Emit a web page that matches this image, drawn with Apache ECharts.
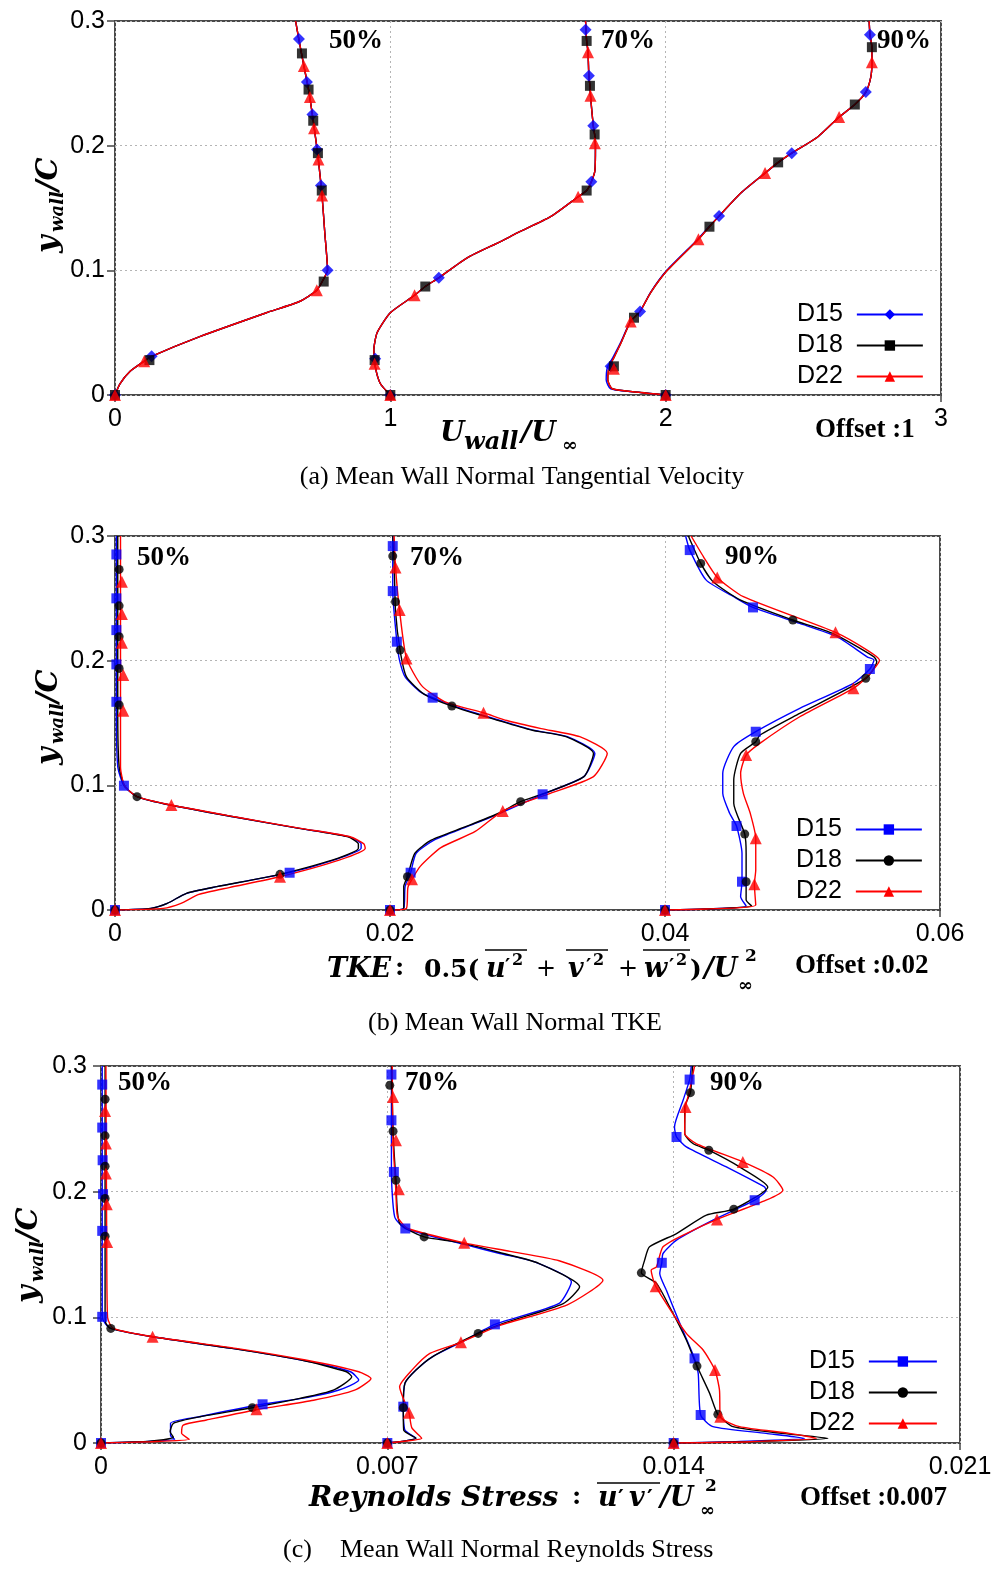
<!DOCTYPE html>
<html>
<head>
<meta charset="utf-8">
<title>Mean wall-normal profiles</title>
<script src="https://cdn.jsdelivr.net/npm/echarts@6/dist/echarts.min.js"></script>
<style>
  html, body { margin: 0; padding: 0; background: #fff; }
  #chart { width: 1001px; height: 1580px; }
</style>
</head>
<body>
<div id="chart"></div>
<script>
// ---------------------------------------------------------------
// Data: [value, y_wall/C] pairs, values before the station offset.
// Stations 50%, 70%, 90% are shifted right by 0, 1, 2 offsets.
// ---------------------------------------------------------------
const NAMES = ['D15', 'D18', 'D22'];
const STATIONS = ['50%', '70%', '90%'];
const Y_TICKS = ['0', '0.1', '0.2', '0.3'];
const VEL_X_TICKS = ['0', '1', '2', '3'];
const TKE_X_TICKS = ['0', '0.02', '0.04', '0.06'];
const RS_X_TICKS = ['0', '0.007', '0.014', '0.021'];
const VEL_OFFSET = 1;
const TKE_OFFSET = 0.02;
const RS_OFFSET = 0.007;

// (a) mean wall-normal tangential velocity U_wall/U_inf
const VEL_50_D15 = [[0,0],[0.018,0.009],[0.055,0.019],[0.105,0.027],[0.133,0.031],[0.31,0.047],[0.55,0.066],[0.67,0.075],[0.733,0.084],[0.76,0.094],[0.772,0.1],[0.762,0.13],[0.752,0.16],[0.738,0.19],[0.72,0.22],[0.703,0.245],[0.686,0.264],[0.668,0.285],[0.656,0.3]];
const VEL_50_D18 = [[0,0],[0.018,0.009],[0.055,0.019],[0.105,0.027],[0.133,0.031],[0.31,0.047],[0.55,0.066],[0.67,0.075],[0.733,0.084],[0.76,0.094],[0.772,0.1],[0.762,0.13],[0.752,0.16],[0.738,0.19],[0.72,0.22],[0.703,0.245],[0.686,0.264],[0.668,0.285],[0.656,0.3]];
const VEL_50_D22 = [[0,0],[0.018,0.009],[0.055,0.019],[0.105,0.027],[0.133,0.031],[0.31,0.047],[0.55,0.066],[0.67,0.075],[0.733,0.084],[0.76,0.094],[0.772,0.1],[0.762,0.13],[0.752,0.16],[0.738,0.19],[0.72,0.22],[0.703,0.245],[0.686,0.264],[0.668,0.285],[0.656,0.3]];
const VEL_50_D15_MK = [[0,0],[0.133,0.031],[0.772,0.1],[0.748,0.168],[0.734,0.197],[0.717,0.225],[0.697,0.251],[0.668,0.2855]];
const VEL_50_D18_MK = [[0,0],[0.125,0.028],[0.758,0.091],[0.751,0.164],[0.737,0.194],[0.72,0.22],[0.703,0.245],[0.679,0.274]];
const VEL_50_D22_MK = [[0,0],[0.106,0.027],[0.733,0.084],[0.752,0.16],[0.739,0.189],[0.723,0.214],[0.708,0.239],[0.686,0.264]];

const VEL_70_D15 = [[0,0],[-0.036,0.009],[-0.054,0.022],[-0.06,0.036],[-0.048,0.05],[0,0.066],[0.088,0.08],[0.127,0.087],[0.176,0.094],[0.279,0.11],[0.4,0.123],[0.461,0.13],[0.582,0.143],[0.682,0.159],[0.713,0.164],[0.73,0.171],[0.743,0.18],[0.745,0.199],[0.742,0.209],[0.737,0.216],[0.727,0.24],[0.725,0.248],[0.721,0.256],[0.718,0.275],[0.713,0.284],[0.709,0.3]];
const VEL_70_D18 = [[0,0],[-0.036,0.009],[-0.054,0.022],[-0.06,0.036],[-0.048,0.05],[0,0.066],[0.088,0.08],[0.127,0.087],[0.176,0.094],[0.279,0.11],[0.4,0.123],[0.461,0.13],[0.582,0.143],[0.682,0.159],[0.713,0.164],[0.73,0.171],[0.743,0.18],[0.745,0.199],[0.742,0.209],[0.737,0.216],[0.727,0.24],[0.725,0.248],[0.721,0.256],[0.718,0.275],[0.713,0.284],[0.709,0.3]];
const VEL_70_D22 = [[0,0],[-0.036,0.009],[-0.054,0.022],[-0.06,0.036],[-0.048,0.05],[0,0.066],[0.088,0.08],[0.127,0.087],[0.176,0.094],[0.279,0.11],[0.4,0.123],[0.461,0.13],[0.582,0.143],[0.682,0.159],[0.713,0.164],[0.73,0.171],[0.743,0.18],[0.745,0.199],[0.742,0.209],[0.737,0.216],[0.727,0.24],[0.725,0.248],[0.721,0.256],[0.718,0.275],[0.713,0.284],[0.709,0.3]];
const VEL_70_D15_MK = [[0,0],[-0.055,0.029],[0.176,0.094],[0.73,0.171],[0.737,0.216],[0.721,0.256],[0.709,0.293]];
const VEL_70_D18_MK = [[0,0],[-0.057,0.028],[0.127,0.087],[0.713,0.164],[0.742,0.209],[0.725,0.248],[0.713,0.284]];
const VEL_70_D22_MK = [[0,0],[-0.057,0.025],[0.088,0.08],[0.682,0.159],[0.743,0.202],[0.727,0.24],[0.718,0.275]];

const VEL_90_D15 = [[0,0],[-0.091,0.002],[-0.2,0.005],[-0.216,0.012],[-0.212,0.022],[-0.192,0.03],[-0.166,0.041],[-0.128,0.059],[-0.093,0.067],[-0.056,0.082],[0.004,0.1],[0.117,0.125],[0.157,0.135],[0.194,0.1435],[0.273,0.162],[0.361,0.178],[0.41,0.1866],[0.458,0.194],[0.552,0.207],[0.63,0.223],[0.687,0.233],[0.727,0.243],[0.745,0.255],[0.749,0.267],[0.749,0.279],[0.742,0.289],[0.739,0.3]];
const VEL_90_D18 = [[0,0],[-0.091,0.002],[-0.194,0.005],[-0.21,0.012],[-0.206,0.022],[-0.188,0.03],[-0.164,0.041],[-0.127,0.059],[-0.093,0.067],[-0.055,0.082],[0.006,0.1],[0.119,0.125],[0.159,0.135],[0.194,0.1435],[0.273,0.162],[0.361,0.178],[0.4085,0.1866],[0.458,0.194],[0.552,0.207],[0.63,0.223],[0.687,0.233],[0.727,0.243],[0.745,0.255],[0.749,0.267],[0.749,0.279],[0.742,0.289],[0.739,0.3]];
const VEL_90_D22 = [[0,0],[-0.091,0.002],[-0.194,0.005],[-0.21,0.012],[-0.206,0.022],[-0.188,0.03],[-0.164,0.041],[-0.127,0.059],[-0.093,0.067],[-0.055,0.082],[0.006,0.1],[0.119,0.125],[0.159,0.135],[0.194,0.1435],[0.273,0.162],[0.361,0.178],[0.4085,0.1866],[0.458,0.194],[0.552,0.207],[0.63,0.223],[0.687,0.233],[0.727,0.243],[0.745,0.255],[0.749,0.267],[0.749,0.279],[0.742,0.289],[0.739,0.3]];
const VEL_90_D15_MK = [[0,0],[-0.2,0.023],[-0.093,0.067],[0.194,0.1435],[0.458,0.194],[0.727,0.243],[0.742,0.289]];
const VEL_90_D18_MK = [[0,0],[-0.188,0.023],[-0.115,0.062],[0.159,0.135],[0.4085,0.1866],[0.687,0.233],[0.749,0.279]];
const VEL_90_D22_MK = [[0,0],[-0.188,0.021],[-0.127,0.059],[0.119,0.125],[0.361,0.178],[0.63,0.223],[0.749,0.267]];

// (b) mean wall-normal TKE
const TKE_50_D15 = [[0,0],[0.0026,0.0013],[0.0038,0.0053],[0.0052,0.0134],[0.0074,0.0187],[0.0127,0.03],[0.0159,0.04],[0.0179,0.0495],[0.0179,0.053],[0.017,0.0588],[0.0134,0.0655],[0.0086,0.0748],[0.0041,0.084],[0.0016,0.091],[0.00065,0.0997],[0.0002,0.115],[0.0001,0.16],[0.0001,0.3]];
const TKE_50_D18 = [[0,0],[0.0026,0.0013],[0.0038,0.0053],[0.0052,0.0134],[0.0074,0.0187],[0.012,0.0286],[0.0158,0.04],[0.0177,0.0495],[0.0177,0.053],[0.0169,0.0588],[0.0134,0.0655],[0.0086,0.0748],[0.0041,0.084],[0.0016,0.091],[0.0007,0.0995],[0.0003,0.115],[0.0002,0.16],[0.0002,0.3]];
const TKE_50_D22 = [[0,0],[0.0035,0.0013],[0.0048,0.0053],[0.0061,0.0125],[0.0083,0.018],[0.012,0.0267],[0.0163,0.04],[0.0182,0.0495],[0.0181,0.053],[0.0171,0.0588],[0.0135,0.0655],[0.0087,0.0748],[0.0041,0.0842],[0.0016,0.091],[0.0007,0.0995],[0.0004,0.115],[0.0004,0.16],[0.0004,0.3]];
const TKE_50_D15_MK = [[0,0],[0.0127,0.0299],[0.00065,0.0997],[0.0001,0.167],[0.0001,0.197],[0.0001,0.2245],[0.0001,0.25],[0.0001,0.2852]];
const TKE_50_D18_MK = [[0,0],[0.012,0.0286],[0.0016,0.0909],[0.0003,0.1644],[0.0003,0.1938],[0.0003,0.2192],[0.0003,0.244],[0.0003,0.2732]];
const TKE_50_D22_MK = [[0,0],[0.012,0.0267],[0.0041,0.0842],[0.0006,0.1598],[0.0006,0.1885],[0.0005,0.2144],[0.0005,0.2374],[0.0005,0.2633]];

const TKE_70_D15 = [[0,0],[0.001,0.0014],[0.0011,0.019],[0.0015,0.03],[0.0019,0.0455],[0.0032,0.056],[0.0056,0.0668],[0.008,0.0776],[0.0111,0.0928],[0.0141,0.107],[0.0149,0.1257],[0.0129,0.139],[0.0104,0.1443],[0.008,0.152],[0.0056,0.16],[0.0031,0.1703],[0.0022,0.175],[0.0011,0.187],[0.0007,0.2],[0.0005,0.215],[0.0002,0.256],[0.0002,0.3]];
const TKE_70_D18 = [[0,0],[0.001,0.0014],[0.001,0.019],[0.00127,0.0267],[0.0018,0.0455],[0.003,0.056],[0.0055,0.0668],[0.0079,0.0776],[0.0095,0.0869],[0.0112,0.0935],[0.0141,0.107],[0.0148,0.1257],[0.0128,0.139],[0.0103,0.1443],[0.0079,0.152],[0.0045,0.1636],[0.0025,0.173],[0.0012,0.187],[0.00073,0.2085],[0.0004,0.24],[0.0003,0.28],[0.0002,0.3]];
const TKE_70_D22 = [[0,0],[0.0012,0.0014],[0.0013,0.018],[0.0016,0.0246],[0.0022,0.035],[0.0037,0.05],[0.0062,0.063],[0.0082,0.0794],[0.0115,0.093],[0.0148,0.107],[0.0158,0.1257],[0.0138,0.139],[0.011,0.1455],[0.0085,0.152],[0.0068,0.1582],[0.004,0.167],[0.0023,0.18],[0.0012,0.2018],[0.0007,0.24],[0.0004,0.275],[0.0003,0.3]];
const TKE_70_D15_MK = [[0,0],[0.0015,0.0299],[0.0111,0.0928],[0.0031,0.1703],[0.0005,0.2152],[0.0002,0.2558],[0.0002,0.2919]];
const TKE_70_D18_MK = [[0,0],[0.00127,0.0267],[0.0095,0.0869],[0.0045,0.1636],[0.00073,0.2085],[0.0004,0.2473],[0.0002,0.2839]];
const TKE_70_D22_MK = [[0,0],[0.0016,0.0246],[0.0082,0.0794],[0.0068,0.1582],[0.0012,0.2018],[0.0007,0.2406],[0.0004,0.2748]];

const TKE_90_D15 = [[0,0],[0.003,0.0008],[0.0059,0.0032],[0.0055,0.0107],[0.0056,0.0227],[0.0056,0.0455],[0.0052,0.0674],[0.0047,0.0776],[0.0042,0.0936],[0.0042,0.1096],[0.005,0.131],[0.0066,0.143],[0.0098,0.1617],[0.0137,0.1818],[0.0149,0.1933],[0.0152,0.2005],[0.0147,0.2031],[0.0125,0.2192],[0.0098,0.2299],[0.0064,0.2427],[0.005,0.2513],[0.003,0.2646],[0.0018,0.2887],[0.0015,0.3]];
const TKE_90_D18 = [[0,0],[0.003,0.0008],[0.0063,0.0032],[0.0059,0.008],[0.0059,0.0227],[0.0059,0.0455],[0.0058,0.0609],[0.005,0.0856],[0.005,0.1042],[0.0055,0.1257],[0.0066,0.135],[0.0069,0.1403],[0.0098,0.1577],[0.0146,0.1858],[0.0154,0.1991],[0.0152,0.2031],[0.0122,0.2219],[0.0093,0.2326],[0.0055,0.2486],[0.0035,0.2633],[0.0026,0.278],[0.0017,0.3]];
const TKE_90_D22 = [[0,0],[0.003,0.0008],[0.0066,0.004],[0.0065,0.0206],[0.0066,0.0321],[0.0066,0.0575],[0.0062,0.0776],[0.0057,0.0936],[0.0055,0.1096],[0.0059,0.1243],[0.0069,0.1337],[0.0098,0.155],[0.0137,0.1778],[0.0147,0.1871],[0.0156,0.2005],[0.0147,0.2085],[0.0124,0.2227],[0.0057,0.2513],[0.0038,0.2668],[0.0028,0.2833],[0.0019,0.3]];
const TKE_90_D15_MK = [[0,0],[0.0056,0.0227],[0.0052,0.0674],[0.0066,0.143],[0.0149,0.1933],[0.0064,0.2427],[0.0018,0.2887]];
const TKE_90_D18_MK = [[0,0],[0.0059,0.0227],[0.0058,0.0609],[0.0066,0.135],[0.0146,0.1858],[0.0093,0.2326],[0.0026,0.278]];
const TKE_90_D22_MK = [[0,0],[0.0065,0.0206],[0.0066,0.0575],[0.0059,0.1243],[0.0137,0.1778],[0.0124,0.2227],[0.0038,0.2668]];

// (c) mean wall-normal Reynolds stress u'v'/U_inf^2
const RS_50_D15 = [[0,0],[0.001,0.001],[0.0018,0.003],[0.0017,0.006],[0.0017,0.0157],[0.0024,0.0209],[0.00395,0.0308],[0.0049,0.0355],[0.0058,0.042],[0.0063,0.0501],[0.0061,0.0567],[0.0049,0.066],[0.0032,0.0753],[0.00126,0.0845],[0.00024,0.0912],[0.0001,0.0952],[0.00003,0.1004],[0.00003,0.15],[0.00003,0.3]];
const RS_50_D18 = [[0,0],[0.0012,0.0015],[0.00177,0.0045],[0.00169,0.009],[0.00177,0.0157],[0.00242,0.0209],[0.0037,0.0281],[0.00486,0.0355],[0.00568,0.0421],[0.00613,0.0527],[0.006,0.0567],[0.0049,0.066],[0.0032,0.0753],[0.00126,0.0845],[0.00024,0.0912],[0.00012,0.0952],[0.0001,0.1],[0.0001,0.2],[0.0001,0.3]];
const RS_50_D22 = [[0,0],[0.0012,0.001],[0.00216,0.0029],[0.00197,0.0077],[0.00201,0.0143],[0.00258,0.0183],[0.0038,0.0265],[0.0052,0.034],[0.0062,0.042],[0.0066,0.0514],[0.0063,0.0567],[0.005,0.066],[0.0033,0.0753],[0.00128,0.0845],[0.0003,0.0912],[0.00016,0.1],[0.00014,0.16],[0.00012,0.3]];
const RS_50_D15_MK = [[0,0],[0.00395,0.0308],[0.00003,0.1004],[0.00003,0.1688],[0.00005,0.198],[0.00004,0.225],[0.00003,0.251],[0.00003,0.2852]];
const RS_50_D18_MK = [[0,0],[0.0037,0.0281],[0.00024,0.0912],[0.0001,0.1646],[0.0001,0.1946],[0.0001,0.2202],[0.0001,0.2444],[0.0001,0.2735]];
const RS_50_D22_MK = [[0,0],[0.0038,0.0268],[0.00126,0.0845],[0.00015,0.16],[0.00014,0.19],[0.00012,0.2144],[0.00012,0.2383],[0.0001,0.2642]];

const RS_70_D15 = [[0,0],[0.0003,0.001],[0.0007,0.0037],[0.00043,0.0103],[0.00039,0.0289],[0.00043,0.0475],[0.0007,0.058],[0.0011,0.0686],[0.0018,0.0801],[0.00263,0.0944],[0.0042,0.1111],[0.0045,0.1283],[0.0036,0.1442],[0.00275,0.1508],[0.00188,0.158],[0.00044,0.1707],[0.00018,0.18],[0.0001,0.2157],[0.0001,0.2568],[0.0001,0.3]];
const RS_70_D18 = [[0,0],[0.0003,0.001],[0.0007,0.0037],[0.0004,0.0103],[0.00039,0.0281],[0.00043,0.0475],[0.0007,0.058],[0.0011,0.0686],[0.00222,0.0872],[0.0029,0.096],[0.0043,0.111],[0.0047,0.1243],[0.0037,0.143],[0.0027,0.152],[0.0017,0.16],[0.0009,0.164],[0.0003,0.175],[0.00021,0.2091],[0.00014,0.2481],[0.0001,0.3]];
const RS_70_D22 = [[0,0],[0.0003,0.001],[0.00084,0.0037],[0.0006,0.012],[0.00053,0.0241],[0.0003,0.0448],[0.0006,0.058],[0.00104,0.0713],[0.0018,0.0801],[0.0027,0.093],[0.0044,0.11],[0.00527,0.1296],[0.0042,0.145],[0.003,0.1525],[0.00188,0.1593],[0.0005,0.1707],[0.00025,0.18],[0.00021,0.2],[0.00014,0.24],[0.00012,0.3]];
const RS_70_D15_MK = [[0,0],[0.00039,0.0289],[0.00263,0.0944],[0.00044,0.1707],[0.00016,0.2157],[0.0001,0.2568],[0.0001,0.2932]];
const RS_70_D18_MK = [[0,0],[0.00039,0.0281],[0.00222,0.0872],[0.0009,0.164],[0.00021,0.2091],[0.00014,0.2481],[0.00006,0.2846]];
const RS_70_D22_MK = [[0,0],[0.00053,0.0241],[0.0018,0.0801],[0.00188,0.1593],[0.00028,0.202],[0.00021,0.2409],[0.00014,0.2753]];

const RS_90_D15 = [[0,0],[0.00145,0.001],[0.0032,0.0037],[0.00226,0.0077],[0.00096,0.013],[0.00066,0.0223],[0.0006,0.0554],[0.00051,0.0673],[0.00015,0.0952],[-0.00018,0.1217],[-0.00034,0.1349],[-0.00029,0.1434],[-0.00026,0.1508],[0.00007,0.1614],[0.00096,0.1773],[0.00198,0.1932],[0.00226,0.2012],[0.00222,0.2038],[0.00129,0.2197],[0.00031,0.2356],[0.00007,0.2435],[0.00002,0.2515],[0.00023,0.2727],[0.00039,0.2892],[0.00043,0.3]];
const RS_90_D18 = [[0,0],[0.00186,0.001],[0.00377,0.0037],[0.00267,0.0077],[0.00145,0.013],[0.00108,0.0228],[0.00088,0.0395],[0.00057,0.0612],[0.00031,0.0819],[-0.0001,0.1084],[-0.00042,0.127],[-0.00079,0.1354],[-0.00071,0.1455],[-0.00059,0.1561],[0.00007,0.1667],[0.0008,0.1813],[0.00147,0.1861],[0.0023,0.2038],[0.00161,0.2197],[0.00086,0.233],[0.00047,0.2383],[0.00027,0.2462],[0.00027,0.2674],[0.00041,0.2788],[0.00046,0.3]];
const RS_90_D22 = [[0,0],[0.00186,0.001],[0.00349,0.0037],[0.00283,0.0077],[0.00161,0.013],[0.00114,0.0209],[0.00112,0.0421],[0.00101,0.058],[0.00072,0.074],[0.00031,0.0872],[-0.00044,0.1248],[-0.00055,0.1376],[-0.00042,0.1402],[-0.00026,0.1561],[0.00031,0.1667],[0.00106,0.1779],[0.00226,0.1932],[0.00267,0.2012],[0.00243,0.2117],[0.00169,0.2237],[0.00055,0.2383],[0.00027,0.2462],[0.00029,0.2674],[0.00039,0.2807],[0.00051,0.3]];
const RS_90_D15_MK = [[0,0],[0.00066,0.0223],[0.00051,0.0673],[-0.00029,0.1434],[0.00198,0.1932],[0.00007,0.2435],[0.00039,0.2892]];
const RS_90_D18_MK = [[0,0],[0.00108,0.0228],[0.00057,0.0612],[-0.00079,0.1354],[0.00147,0.1861],[0.00086,0.233],[0.00041,0.2788]];
const RS_90_D22_MK = [[0,0],[0.00114,0.0209],[0.00101,0.058],[-0.00044,0.1248],[0.00106,0.1779],[0.00169,0.2237],[0.00029,0.2674]];

// ---------------------------------------------------------------
// Layout of the three stacked panels
// ---------------------------------------------------------------
const COLORS = ['#0000ff', '#000000', '#ff0000'];
const PANELS = [
  {
    key: 'a',
    grid: { left: 115, top: 21, width: 826, height: 374 },
    max: 3, interval: 1, ticks: VEL_X_TICKS, offset: VEL_OFFSET, yMargin: 10,
    shapes: ['diamond', 'rect', 'triangle'], sizes: [12, 10, 12],
    curves: [[VEL_50_D15, VEL_50_D18, VEL_50_D22], [VEL_70_D15, VEL_70_D18, VEL_70_D22], [VEL_90_D15, VEL_90_D18, VEL_90_D22]],
    marks: [[VEL_50_D15_MK, VEL_50_D18_MK, VEL_50_D22_MK], [VEL_70_D15_MK, VEL_70_D18_MK, VEL_70_D22_MK], [VEL_90_D15_MK, VEL_90_D18_MK, VEL_90_D22_MK]],
    legend: { left: 792, top: 297, itemWidth: 66 }
  },
  {
    key: 'b',
    grid: { left: 115, top: 536, width: 825, height: 374 },
    max: 0.06, interval: 0.02, ticks: TKE_X_TICKS, offset: TKE_OFFSET, yMargin: 10,
    shapes: ['rect', 'circle', 'triangle'], sizes: [10, 9, 12],
    curves: [[TKE_50_D15, TKE_50_D18, TKE_50_D22], [TKE_70_D15, TKE_70_D18, TKE_70_D22], [TKE_90_D15, TKE_90_D18, TKE_90_D22]],
    marks: [[TKE_50_D15_MK, TKE_50_D18_MK, TKE_50_D22_MK], [TKE_70_D15_MK, TKE_70_D18_MK, TKE_70_D22_MK], [TKE_90_D15_MK, TKE_90_D18_MK, TKE_90_D22_MK]],
    legend: { left: 791, top: 812, itemWidth: 66 }
  },
  {
    key: 'c',
    grid: { left: 101, top: 1066, width: 859, height: 377 },
    max: 0.021, interval: 0.007, ticks: RS_X_TICKS, offset: RS_OFFSET, yMargin: 14,
    shapes: ['rect', 'circle', 'triangle'], sizes: [10, 9, 12],
    curves: [[RS_50_D15, RS_50_D18, RS_50_D22], [RS_70_D15, RS_70_D18, RS_70_D22], [RS_90_D15, RS_90_D18, RS_90_D22]],
    marks: [[RS_50_D15_MK, RS_50_D18_MK, RS_50_D22_MK], [RS_70_D15_MK, RS_70_D18_MK, RS_70_D22_MK], [RS_90_D15_MK, RS_90_D18_MK, RS_90_D22_MK]],
    legend: { left: 804, top: 1344, itemWidth: 68 }
  }
];

// series names carry the panel key so that each legend takes its own marker shapes
const seriesName = (name, p) => name + '-' + p.key;

const TICK_FONT = { fontSize: 25, fontFamily: 'Liberation Sans', color: '#000' };
const GRID_LINE = { color: '#b4b4b4', type: [2, 3], width: 1 };
const TICK_LINE = { color: '#444', width: 1.5 };

const grids = PANELS.map(p => Object.assign({
  show: true, borderColor: '#4a4a4a', borderWidth: 2, backgroundColor: 'transparent',
  containLabel: false, outerBoundsMode: 'none'
}, p.grid));

const xAxes = [];
const yAxes = [];
PANELS.forEach((p, i) => {
  const base = { gridIndex: i, type: 'value', min: 0, max: p.max, interval: p.interval };
  xAxes.push(Object.assign({}, base, {
    position: 'bottom',
    axisLine: { show: false }, axisTick: { show: false },
    splitLine: { show: true, lineStyle: GRID_LINE },
    axisLabel: Object.assign({ margin: 12, formatter: v => p.ticks[Math.round(v / p.interval)] }, TICK_FONT)
  }));
  xAxes.push(Object.assign({}, base, {
    position: 'top',
    axisLine: { show: false }, axisLabel: { show: false }, splitLine: { show: false },
    axisTick: { show: true, inside: true, length: 7, lineStyle: TICK_LINE }
  }));
  const ybase = { gridIndex: i, type: 'value', min: 0, max: 0.3, interval: 0.1 };
  yAxes.push(Object.assign({}, ybase, {
    position: 'left',
    axisLine: { show: false }, axisTick: { show: false },
    splitLine: { show: true, lineStyle: GRID_LINE },
    axisLabel: Object.assign({ margin: p.yMargin, formatter: v => Y_TICKS[Math.round(v / 0.1)] }, TICK_FONT)
  }));
  yAxes.push(Object.assign({}, ybase, {
    position: 'right',
    axisLine: { show: false }, axisLabel: { show: false }, splitLine: { show: false },
    axisTick: { show: true, inside: true, length: 8, lineStyle: TICK_LINE }
  }));
});

// profile lines first (legend icons take their look from them), markers after
const lineSeries = [];
const markSeries = [];
PANELS.forEach((p, pi) => {
  STATIONS.forEach((st, s) => {
    const shift = p.offset * s;
    NAMES.forEach((name, k) => {
      const common = {
        name: seriesName(name, p), xAxisIndex: 2 * pi, yAxisIndex: 2 * pi,
        symbol: p.shapes[k], symbolSize: p.sizes[k],
        itemStyle: { color: COLORS[k] }, silent: true, animation: false
      };
      lineSeries.push(Object.assign({}, common, {
        type: 'line', showSymbol: false, smooth: 0.2, clip: true,
        data: p.curves[s][k].map(([x, y]) => [x + shift, y]),
        lineStyle: { color: COLORS[k], width: 1.4 }, z: 2 + k
      }));
      markSeries.push(Object.assign({}, common, {
        type: 'scatter', clip: false,
        data: p.marks[s][k].map(([x, y]) => [x + shift, y]), z: 10 + k
      }));
    });
  });
});

const legends = PANELS.map(p => ({
  data: NAMES.map(n => seriesName(n, p)),
  formatter: n => n.split('-')[0],
  orient: 'vertical', align: 'right', selectedMode: false,
  left: p.legend.left, top: p.legend.top,
  itemWidth: p.legend.itemWidth, itemHeight: 13, itemGap: 6,
  textStyle: { fontSize: 25, fontFamily: 'Liberation Sans', color: '#000', padding: [0, 9, 0, 0] }
}));

// ---------------------------------------------------------------
// Text: station labels, axis titles, offsets and captions
// ---------------------------------------------------------------
const MATH = { family: 'DejaVu Serif', weight: 'bold', style: 'italic' };
const MATH_UP = { family: 'DejaVu Serif', weight: 'bold' };
const PRIME = { family: 'DejaVu Sans', weight: 'bold' };
const SERIF_B = { family: 'Liberation Serif', weight: 'bold' };

function txt(x, y, text, size, o) {
  o = o || {};
  return {
    type: 'text', x, y, silent: true, z: 100,
    style: {
      text, fontSize: size, fontFamily: o.family || 'Liberation Serif',
      fontWeight: o.weight || 'normal', fontStyle: o.style || 'normal',
      fill: '#000', align: o.align || 'left', verticalAlign: 'middle'
    }
  };
}
function overline(x1, x2, y) {
  return { type: 'line', silent: true, z: 100, shape: { x1, y1: y, x2, y2: y }, style: { stroke: '#000', lineWidth: 1.6 } };
}
function yTitle(cx, cy) {
  return {
    type: 'group', x: cx, y: cy, rotation: Math.PI / 2, silent: true,
    children: [
      txt(-48, -3, 'y', 30, MATH),
      txt(-27, 6, 'wall', 18, MATH),
      txt(14, -3, '/C', 29, MATH)
    ]
  };
}

const graphics = [
  // (a)
  txt(329, 41, '50%', 27, SERIF_B), txt(601, 41, '70%', 27, SERIF_B), txt(877, 41, '90%', 27, SERIF_B),
  yTitle(52, 205),
  txt(440, 434, 'U', 28, MATH), txt(464, 443, 'wall', 24, MATH), txt(521, 434, '/U', 28, MATH),
  txt(562, 446, '∞', 19, MATH_UP),
  txt(815, 430, 'Offset :1', 27, SERIF_B),
  txt(522, 477, '(a) Mean Wall Normal Tangential Velocity', 26, { align: 'center' }),

  // (b)
  txt(137, 558, '50%', 27, SERIF_B), txt(410, 558, '70%', 27, SERIF_B), txt(725, 557, '90%', 27, SERIF_B),
  yTitle(52, 717),
  txt(327, 970, 'TKE', 27, MATH), txt(395, 968, ':', 25, MATH_UP),
  txt(424, 970, '0.5(', 25, MATH_UP),
  txt(486, 970, 'u', 27, MATH), txt(505, 967, '′', 20, PRIME), txt(512, 961, '2', 16, MATH_UP), overline(485, 527, 950),
  txt(536, 970, '+', 24, { family: 'DejaVu Serif' }),
  txt(568, 970, 'v', 27, MATH), txt(586, 967, '′', 20, PRIME), txt(593, 961, '2', 16, MATH_UP), overline(566, 608, 950),
  txt(618, 970, '+', 24, { family: 'DejaVu Serif' }),
  txt(644, 970, 'w', 27, MATH), txt(669, 967, '′', 20, PRIME), txt(676, 961, '2', 16, MATH_UP), overline(643, 690, 950),
  txt(690, 970, ')', 25, MATH_UP),
  txt(704, 970, '/U', 27, MATH), txt(745, 957, '2', 17, MATH_UP), txt(738, 986, '∞', 18, MATH_UP),
  txt(795, 966, 'Offset :0.02', 27, SERIF_B),
  txt(515, 1023, '(b) Mean Wall Normal TKE', 26, { align: 'center' }),

  // (c)
  txt(118, 1083, '50%', 27, SERIF_B), txt(405, 1083, '70%', 27, SERIF_B), txt(710, 1083, '90%', 27, SERIF_B),
  yTitle(32, 1255),
  txt(309, 1499, 'Reynolds Stress', 28, MATH), txt(572, 1497, ':', 25, MATH_UP),
  txt(598, 1499, 'u', 27, MATH), txt(618, 1499, '′', 22, PRIME),
  txt(629, 1499, 'v', 27, MATH), txt(647, 1499, '′', 22, PRIME), overline(597, 660, 1483),
  txt(660, 1499, '/U', 27, MATH), txt(705, 1487, '2', 17, MATH_UP), txt(700, 1511, '∞', 18, MATH_UP),
  txt(800, 1498, 'Offset :0.007', 27, SERIF_B),
  txt(283, 1550, '(c)', 26), txt(340, 1550, 'Mean Wall Normal Reynolds Stress', 26)
];

const chart = echarts.init(document.getElementById('chart'), null, { renderer: 'canvas' });
chart.setOption({
  backgroundColor: '#ffffff',
  animation: false,
  grid: grids,
  xAxis: xAxes,
  yAxis: yAxes,
  legend: legends,
  series: lineSeries.concat(markSeries),
  graphic: graphics
});
</script>
</body>
</html>
